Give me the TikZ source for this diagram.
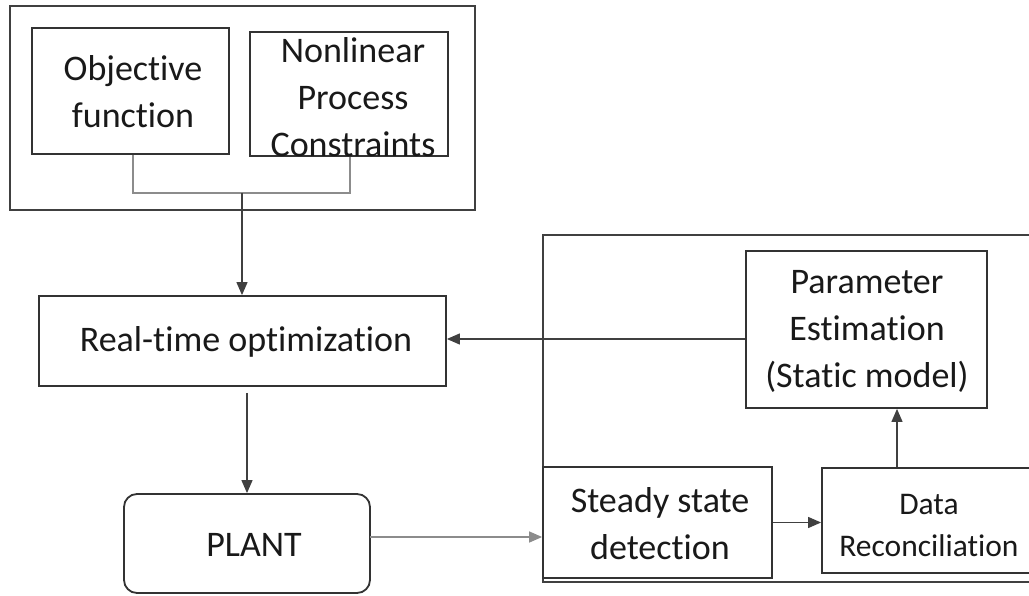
\documentclass[tikz,border=0pt]{standalone}
\usepackage{fontspec}
\setmainfont[Ligatures={NoCommon}]{Carlito}
\usetikzlibrary{arrows.meta,calc}
\begin{document}
\begin{tikzpicture}[x=1pt,y=-1pt,
  box/.style={draw=black!80,line width=1.8pt,inner sep=0pt,fill=none},
  frame/.style={draw=black!75,line width=2pt,inner sep=0pt},
  txt/.style={align=center,inner sep=0pt,font=\fontsize{36}{47}\selectfont,text=black!90},
  smalltxt/.style={align=center,inner sep=0pt,font=\fontsize{31.5}{42}\selectfont,text=black!90},
  link/.style={draw=black!75,line width=1.2pt},
  lightlink/.style={draw=black!45,line width=1.4pt},
  tip/.style={-{Triangle[length=13pt,width=11pt]}}
]
\useasboundingbox (0,0) rectangle (1029,596);
\clip (0,0) rectangle (1029,596);
\fill[white] (0,0) rectangle (1029,596);

% upper frame with the two problem-definition boxes
\node[frame,minimum width=465pt,minimum height=204pt] (topframe) at (242.5,108) {};
\node[box,minimum width=197pt,minimum height=126pt] (obj) at (130.5,91) {};
\node[box,minimum width=198pt,minimum height=124pt] (nlc) at (349,94) {};
\node[txt] (objtxt) at (133,92) {Objective\\function};
\node[txt] (nlctxt) at (353,97) {Nonlinear\\Process\\Constraints};

% optimisation layer and plant
\node[box,minimum width=407pt,minimum height=90pt] (rto) at (242.5,341) {};
\node[txt] (rtotxt) at (246,342) {Real-time optimization};
\node[box,rounded corners=13pt,minimum width=246pt,minimum height=99pt] (plant) at (247,543.5) {};
\node[txt] (planttxt) at (254,545) {PLANT};

% right frame: steady state, reconciliation, estimation
\node[frame,minimum width=490pt,minimum height=347pt] (rightframe) at (788,408.5) {};
\node[box,minimum width=241pt,minimum height=157pt] (pe) at (866.5,329.5) {};
\node[txt] (petxt) at (867,331) {Parameter\\Estimation\\(Static model)};
\node[box,minimum width=229pt,minimum height=111pt] (ssd) at (657.5,522.5) {};
\node[txt] (ssdtxt) at (660,524) {Steady state\\detection};
\node[box,minimum width=210pt,minimum height=105pt] (dr) at (927,520.5) {};
\node[smalltxt] (drtxt) at (929,526) {Data\\Reconciliation};

% connectors
\coordinate (join) at (242,193);
\coordinate (plantout) at (370,537);
\coordinate (drup) at (897,0);
\draw[lightlink] (obj.south -| 133,0) |- (join) -| (nlc.south -| 350,0);
\draw[link,tip] (join) -- (join |- rto.north);
\draw[link,tip,shorten <=6pt] (plant.north |- rto.south) -- (plant.north);
\draw[link,tip] (pe.west |- 0,339) -- (rto.east |- 0,339);
\draw[lightlink,tip] (plantout) -- (plantout -| ssd.west);
\draw[link,tip] (ssd.east) -- (ssd.east -| dr.west);
\draw[link,tip] (dr.north -| drup) -- (pe.south -| drup);
\end{tikzpicture}
\end{document}
